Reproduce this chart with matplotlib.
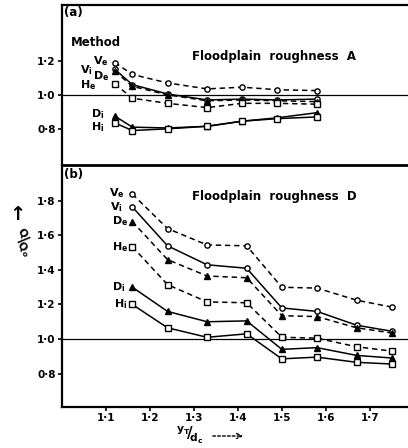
import matplotlib
matplotlib.use("Agg")
import matplotlib.pyplot as plt

# Depth ratio y_T/d_c for each panel
x_a = [1.12, 1.16, 1.24, 1.33, 1.41, 1.49, 1.58]
x_b = [1.16, 1.24, 1.33, 1.42, 1.50, 1.58, 1.67, 1.75]

# Q/Q0 for each method, floodplain roughness A
a_Ve = [1.19, 1.12, 1.07, 1.035, 1.045, 1.03, 1.025]
a_Vi = [1.15, 1.06, 1.005, 0.97, 0.975, 0.97, 0.975]
a_De = [1.14, 1.05, 1.0, 0.965, 0.97, 0.965, 0.96]
a_He = [1.065, 0.98, 0.95, 0.925, 0.95, 0.95, 0.945]
a_Di = [0.875, 0.81, 0.805, 0.815, 0.845, 0.865, 0.895]
a_Hi = [0.835, 0.79, 0.80, 0.815, 0.845, 0.86, 0.87]

# Q/Q0 for each method, floodplain roughness D
b_Ve = [1.84, 1.64, 1.545, 1.54, 1.30, 1.295, 1.225, 1.185]
b_Vi = [1.765, 1.54, 1.43, 1.41, 1.18, 1.16, 1.08, 1.045]
b_De = [1.68, 1.46, 1.365, 1.355, 1.135, 1.13, 1.065, 1.035]
b_He = [1.535, 1.315, 1.215, 1.21, 1.01, 1.005, 0.955, 0.93]
b_Di = [1.30, 1.16, 1.10, 1.105, 0.94, 0.95, 0.905, 0.89]
b_Hi = [1.20, 1.065, 1.01, 1.03, 0.885, 0.895, 0.865, 0.855]

x_ticks = [1.1, 1.2, 1.3, 1.4, 1.5, 1.6, 1.7]
x_ticklabels = ["1·1", "1·2", "1·3", "1·4", "1·5", "1·6", "1·7"]
a_yticks = [0.8, 1.0, 1.2]
a_yticklabels = ["0·8", "1·0", "1·2"]
b_yticks = [0.8, 1.0, 1.2, 1.4, 1.6, 1.8]
b_yticklabels = ["0·8", "1·0", "1·2", "1·4", "1·6", "1·8"]

methods = ["Ve", "Vi", "De", "He", "Di", "Hi"]
names = {"Ve": r"V$_\mathbf{e}$", "Vi": r"V$_\mathbf{i}$", "De": r"D$_\mathbf{e}$",
         "He": r"H$_\mathbf{e}$", "Di": r"D$_\mathbf{i}$", "Hi": r"H$_\mathbf{i}$"}
styles = {
    "Ve": dict(ls=(0, (3.5, 2.5)), marker="o", mfc="white"),
    "Vi": dict(ls="-", marker="o", mfc="white"),
    "De": dict(ls=(0, (3.5, 2.5)), marker="^", mfc="black"),
    "He": dict(ls=(0, (3.5, 2.5)), marker="s", mfc="white"),
    "Di": dict(ls="-", marker="^", mfc="black"),
    "Hi": dict(ls="-", marker="s", mfc="white"),
}

plt.rcParams["font.family"] = "DejaVu Sans"
plt.rcParams["mathtext.fontset"] = "dejavusans"
plt.rcParams["mathtext.default"] = "bf"

fig = plt.figure(figsize=(4.08, 4.48), dpi=100)
ax_a = fig.add_axes([0.152, 0.632, 0.848, 0.357])
ax_b = fig.add_axes([0.152, 0.0915, 0.848, 0.5405])

series_a = dict(Ve=a_Ve, Vi=a_Vi, De=a_De, He=a_He, Di=a_Di, Hi=a_Hi)
series_b = dict(Ve=b_Ve, Vi=b_Vi, De=b_De, He=b_He, Di=b_Di, Hi=b_Hi)

for ax, xs, series in [(ax_a, x_a, series_a), (ax_b, x_b, series_b)]:
    ax.axhline(1.0, color="black", lw=0.9, zorder=1)
    for m in methods:
        st = styles[m]
        ax.plot(xs, series[m], color="black", lw=1.1, ls=st["ls"],
                marker=st["marker"], ms=3.8, mfc=st["mfc"], mec="black",
                mew=1.0, zorder=3)
    ax.set_xlim(1.0, 1.787)
    ax.spines["right"].set_visible(False)
    for side in ["left", "top", "bottom"]:
        ax.spines[side].set_linewidth(1.6)
    ax.tick_params(axis="both", direction="out", length=3, width=1.2,
                   labelsize=7.5, pad=1.5)

ax_a.set_ylim(0.588, 1.529)
ax_a.set_yticks(a_yticks)
ax_a.set_yticklabels(a_yticklabels, fontweight="bold")
ax_a.set_xticks([])
ax_a.spines["bottom"].set_visible(False)

ax_b.set_ylim(0.606, 2.009)
ax_b.set_yticks(b_yticks)
ax_b.set_yticklabels(b_yticklabels, fontweight="bold")
ax_b.set_xticks(x_ticks)
ax_b.set_xticklabels(x_ticklabels, fontweight="bold")
ax_b.spines["top"].set_linewidth(2.0)

fs = 8.5
lfs = 8
# Panel (a) annotations
ax_a.text(0.005, 0.955, "(a)", transform=ax_a.transAxes, fontsize=fs,
          fontweight="bold", ha="left", va="center")
ax_a.text(1.02, 1.31, "Method", fontsize=fs, fontweight="bold", ha="left", va="center")
ax_a.text(1.295, 1.224, "Floodplain  roughness  A", fontsize=fs,
          fontweight="bold", ha="left", va="center")
a_label_pos = {"Ve": (1.089, 1.196), "Vi": (1.055, 1.147), "De": (1.089, 1.108),
               "He": (1.059, 1.06), "Di": (1.082, 0.885), "Hi": (1.082, 0.812)}
for m, (lx, ly) in a_label_pos.items():
    ax_a.text(lx, ly, names[m], fontsize=lfs, fontweight="bold",
              ha="center", va="center")

# Panel (b) annotations
ax_b.text(0.005, 0.96, "(b)", transform=ax_b.transAxes, fontsize=fs,
          fontweight="bold", ha="left", va="center")
ax_b.text(1.295, 1.823, "Floodplain  roughness  D", fontsize=fs,
          fontweight="bold", ha="left", va="center")
b_label_pos = {"Ve": (1.124, 1.846), "Vi": (1.124, 1.765), "De": (1.133, 1.684),
               "He": (1.133, 1.533), "Di": (1.128, 1.30), "Hi": (1.133, 1.20)}
for m, (lx, ly) in b_label_pos.items():
    ax_b.text(lx, ly, names[m], fontsize=lfs, fontweight="bold",
              ha="center", va="center")

# Axis captions with direction arrows
fig.text(17 / 408, 1 - 214 / 448, "↑", fontsize=14, ha="center", va="center",
         fontweight="bold")
fig.text(23 / 408, 1 - 243 / 448, r"$^{Q}\!/\!_{Q_o}$", fontsize=11,
         ha="center", va="center", rotation=-50)
fig.text(190 / 408, 1 - 435 / 448, r"$^{y_T}\!/\!_{d_c}$", fontsize=11,
         ha="center", va="center")
fig.add_artist(matplotlib.patches.FancyArrowPatch(
    (210 / 408, 1 - 436 / 448), (246 / 408, 1 - 436 / 448),
    transform=fig.transFigure, arrowstyle="->", mutation_scale=9,
    lw=1.0, ls=(0, (2, 1.5)), color="black"))

fig.savefig("out.png", dpi=100)
